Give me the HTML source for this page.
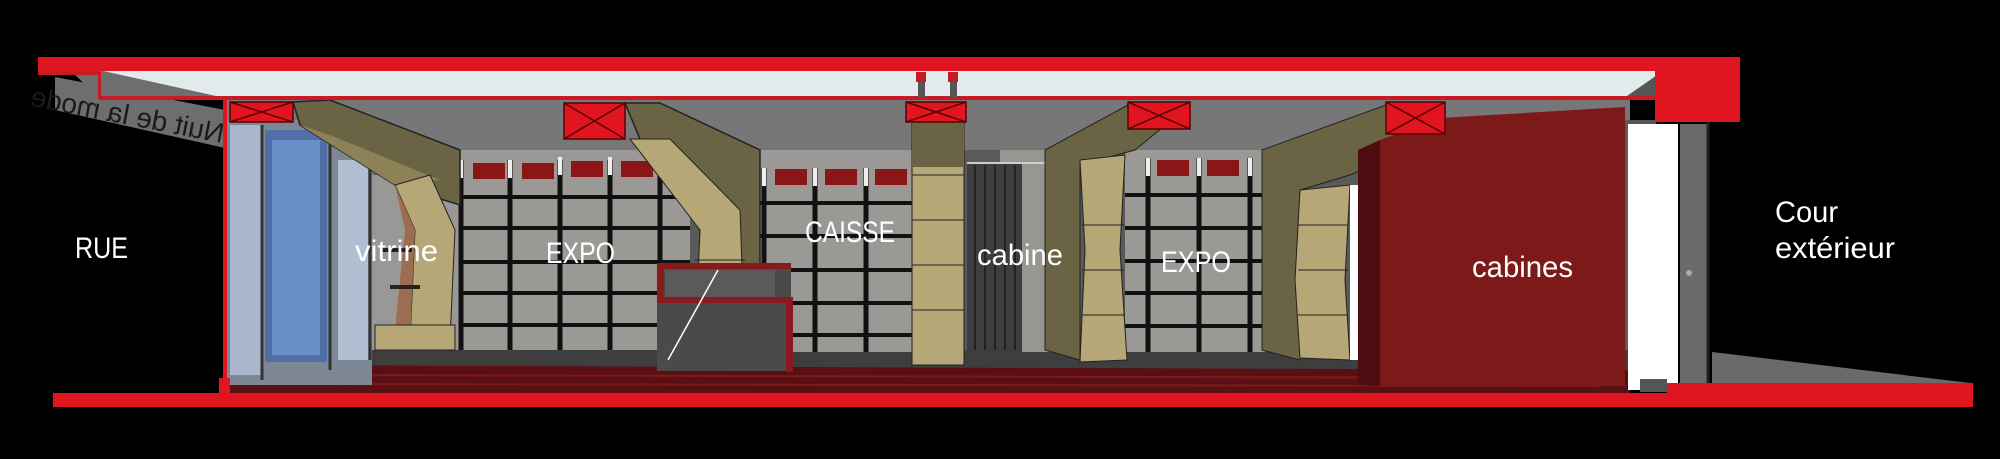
<!DOCTYPE html>
<html><head><meta charset="utf-8"><style>
html,body{margin:0;padding:0;background:#000;width:2000px;height:459px;overflow:hidden}
svg{display:block}
.l{font-family:"Liberation Sans Narrow","Liberation Sans",sans-serif;fill:#fff;font-size:30px}
</style></head><body>
<svg width="2000" height="459" viewBox="0 0 2000 459" xmlns="http://www.w3.org/2000/svg">
<rect width="2000" height="459" fill="#000"/>
<rect x="225" y="99" width="1405" height="294" fill="#5a5a5a"/>
<polygon points="225,99 1630,99 1630,120 1400,150 460,150 372,175 225,125" fill="#777"/>
<polygon points="225,350 1630,350 1630,393 225,393" fill="#3e3e3e"/>
<polygon points="225,365 1630,370 1630,393 225,393" fill="#5a0f12"/>
<line x1="300" y1="375" x2="1600" y2="378" stroke="#7a1a1a" stroke-width="2"/>
<line x1="300" y1="384" x2="1600" y2="386" stroke="#7a1a1a" stroke-width="2"/>
<rect x="372" y="175" width="90" height="175" fill="#9a9896"/>
<rect x="460" y="150" width="230" height="200" fill="#9b9995"/>
<rect x="745" y="150" width="170" height="202" fill="#9b9995"/>
<rect x="1000" y="150" width="50" height="202" fill="#989690"/>
<rect x="1125" y="150" width="140" height="202" fill="#9b9995"/>
<g stroke="#111" stroke-width="4">
<line x1="462" y1="197" x2="690" y2="197"/><line x1="462" y1="228" x2="690" y2="228"/>
<line x1="462" y1="262" x2="690" y2="262"/><line x1="462" y1="293" x2="690" y2="293"/>
<line x1="462" y1="325" x2="690" y2="325"/>
<line x1="760" y1="203" x2="915" y2="203"/><line x1="760" y1="236" x2="915" y2="236"/>
<line x1="760" y1="270" x2="915" y2="270"/><line x1="760" y1="303" x2="915" y2="303"/>
<line x1="760" y1="335" x2="915" y2="335"/>
<line x1="1125" y1="195" x2="1262" y2="195"/><line x1="1125" y1="228" x2="1262" y2="228"/>
<line x1="1125" y1="261" x2="1262" y2="261"/><line x1="1125" y1="293" x2="1262" y2="293"/>
<line x1="1125" y1="326" x2="1262" y2="326"/>
</g>
<g stroke="#111" stroke-width="5">
<line x1="461" y1="160" x2="461" y2="350"/><line x1="510" y1="160" x2="510" y2="350"/>
<line x1="560" y1="160" x2="560" y2="350"/><line x1="610" y1="160" x2="610" y2="350"/>
<line x1="660" y1="160" x2="660" y2="350"/>
<line x1="764" y1="168" x2="764" y2="352"/><line x1="815" y1="168" x2="815" y2="352"/>
<line x1="866" y1="168" x2="866" y2="352"/>
<line x1="1148" y1="158" x2="1148" y2="352"/><line x1="1199" y1="158" x2="1199" y2="352"/>
<line x1="1250" y1="158" x2="1250" y2="352"/>
</g>
<g fill="#eee">
<rect x="459" y="160" width="4" height="18"/><rect x="508" y="160" width="4" height="18"/>
<rect x="558" y="157" width="4" height="18"/><rect x="608" y="157" width="4" height="18"/>
<rect x="762" y="168" width="4" height="18"/><rect x="813" y="168" width="4" height="18"/>
<rect x="864" y="168" width="4" height="18"/>
<rect x="1146" y="158" width="4" height="18"/><rect x="1197" y="158" width="4" height="18"/>
<rect x="1248" y="158" width="4" height="18"/>
</g>
<g fill="#8c1518">
<rect x="473" y="163" width="32" height="16"/><rect x="522" y="163" width="32" height="16"/>
<rect x="571" y="161" width="32" height="16"/><rect x="621" y="161" width="32" height="16"/>
<rect x="775" y="169" width="32" height="16"/><rect x="825" y="169" width="32" height="16"/>
<rect x="875" y="169" width="32" height="16"/>
<rect x="1157" y="160" width="32" height="16"/><rect x="1207" y="160" width="32" height="16"/>
</g>
<rect x="227" y="120" width="145" height="265" fill="#7d8796"/>
<rect x="230" y="125" width="32" height="250" fill="#a9b6cc"/>
<rect x="265" y="130" width="62" height="232" fill="#4f6fa6"/>
<rect x="272" y="140" width="48" height="215" fill="#6b8fc9"/>
<rect x="338" y="160" width="30" height="200" fill="#b2bfd2"/>
<g stroke="#333" stroke-width="3"><line x1="262" y1="125" x2="262" y2="380"/><line x1="330" y1="130" x2="330" y2="370"/><line x1="370" y1="150" x2="370" y2="360"/></g>
<polygon points="55,77 225,110 225,148 55,110" fill="#6e6e6e"/>
<text x="0" y="0" font-family="Liberation Sans,sans-serif" font-size="28" fill="#1a1a1a" transform="translate(222,143) scale(-1,1) rotate(-11)">Nuit de la mode</text>
<polygon points="293,102 330,100 460,150 460,205 395,185 300,125" fill="#6b6444" stroke="#222" stroke-width="1.5"/>
<polygon points="300,125 395,185 440,180 330,135" fill="#8c8157"/>
<polygon points="395,185 430,175 455,230 450,340 410,340 415,230" fill="#b6a776" stroke="#222"/>
<polygon points="395,185 415,230 410,340 395,330 405,230" fill="#9c6d50"/>
<rect x="375" y="325" width="80" height="25" fill="#b6a776" stroke="#222"/>
<rect x="382" y="248" width="30" height="4" fill="#222"/><rect x="390" y="285" width="30" height="4" fill="#222"/>
<polygon points="625,103 660,103 760,150 760,350 700,350 700,230 640,139" fill="#6b6444" stroke="#222" stroke-width="1.5"/>
<polygon points="630,139 670,139 740,210 745,350 695,350 700,230" fill="#b6a776" stroke="#222"/>
<line x1="695" y1="260" x2="745" y2="260" stroke="#222"/><line x1="695" y1="300" x2="745" y2="300" stroke="#222"/>
<rect x="912" y="122" width="52" height="243" fill="#b6a776" stroke="#222"/>
<rect x="912" y="122" width="52" height="45" fill="#6b6444"/>
<g stroke="#222"><line x1="912" y1="175" x2="964" y2="175"/><line x1="912" y1="220" x2="964" y2="220"/><line x1="912" y1="265" x2="964" y2="265"/><line x1="912" y1="310" x2="964" y2="310"/></g>
<rect x="967" y="162" width="55" height="190" fill="#3e3e40"/>
<g stroke="#222" stroke-width="2"><line x1="975" y1="165" x2="975" y2="350"/><line x1="985" y1="165" x2="985" y2="350"/><line x1="995" y1="165" x2="995" y2="350"/><line x1="1005" y1="165" x2="1005" y2="350"/><line x1="1015" y1="165" x2="1015" y2="350"/></g>
<line x1="967" y1="163" x2="1072" y2="163" stroke="#ccc" stroke-width="2"/>
<polygon points="1045,150 1128,105 1190,105 1135,150 1080,165 1080,360 1045,350" fill="#6b6444" stroke="#222"/>
<polygon points="1080,160 1125,155 1120,250 1127,360 1080,362 1085,250" fill="#b6a776" stroke="#222"/>
<g stroke="#222"><line x1="1082" y1="225" x2="1124" y2="225"/><line x1="1082" y1="270" x2="1124" y2="270"/><line x1="1082" y1="315" x2="1124" y2="315"/></g>
<polygon points="1262,150 1386,105 1445,105 1430,140 1350,175 1300,190 1300,360 1262,350" fill="#6b6444" stroke="#222"/>
<polygon points="1300,190 1350,185 1345,280 1350,360 1300,358 1295,280" fill="#b6a776" stroke="#222"/>
<g stroke="#222"><line x1="1298" y1="225" x2="1348" y2="225"/><line x1="1298" y1="270" x2="1348" y2="270"/><line x1="1298" y1="315" x2="1348" y2="315"/></g>
<rect x="1350" y="185" width="10" height="175" fill="#fff"/>
<rect x="657" y="263" width="134" height="108" fill="#4a4a4a"/>
<rect x="665" y="270" width="110" height="32" fill="#5a5a5a"/>
<polygon points="657,263 791,263 791,269 664,269 664,297 793,297 793,372 786,372 786,303 657,303" fill="#8a1a1e"/>
<line x1="668" y1="360" x2="718" y2="270" stroke="#fff" stroke-width="1.5"/>
<polygon points="1358,150 1380,140 1380,386 1358,385" fill="#4d0d10"/>
<polygon points="1380,140 1440,118 1625,107 1625,386 1380,386" fill="#7c1a1a"/>
<rect x="1628" y="120" width="28" height="4" fill="#555"/>
<rect x="1628" y="124" width="50" height="266" fill="#fff"/>
<rect x="1680" y="124" width="28" height="259" fill="#6a6a6a"/>
<line x1="1708" y1="120" x2="1708" y2="383" stroke="#222" stroke-width="3"/>
<circle cx="1689" cy="273" r="3" fill="#aaa"/>
<polygon points="1712,352 1970,383 1712,383" fill="#6a6a6a"/>
<rect x="99" y="70" width="1560" height="28" fill="#e2eaeb"/>
<polygon points="70,70 99,70 225,98 99,98" fill="#6e6e6e"/>
<rect x="99" y="96" width="1560" height="4" fill="#c81a22"/>
<rect x="38" y="70" width="62" height="5" fill="#c81a22"/>
<rect x="98" y="72" width="3" height="27" fill="#c81a22"/>
<rect x="918" y="72" width="7" height="26" fill="#555"/><rect x="950" y="72" width="7" height="26" fill="#555"/>
<rect x="916" y="72" width="10" height="10" fill="#c81a22"/><rect x="948" y="72" width="10" height="10" fill="#c81a22"/>
<polygon points="1627,96 1660,73 1660,96" fill="#555"/>
<rect x="1655" y="70" width="85" height="52" fill="#e0151f"/>
<rect x="38" y="57" width="1702" height="14" fill="#e0151f"/>
<rect x="53" y="393" width="1920" height="14" fill="#e0151f"/>
<rect x="1667" y="383" width="306" height="12" fill="#e0151f"/>
<polygon points="1640,379 1667,379 1667,392 1640,392" fill="#555"/>
<rect x="223" y="99" width="4" height="292" fill="#e0151f"/>
<rect x="219" y="378" width="11" height="15" fill="#e0151f"/>
<g fill="#e0151f" stroke="#5a0000" stroke-width="1.5">
<rect x="230" y="102" width="63" height="20"/><rect x="564" y="103" width="61" height="36"/>
<rect x="906" y="102" width="60" height="20"/><rect x="1128" y="102" width="62" height="27"/>
<rect x="1386" y="102" width="59" height="32"/>
</g>
<g stroke="#5a0000" stroke-width="1.5">
<line x1="230" y1="102" x2="293" y2="122"/><line x1="293" y1="102" x2="230" y2="122"/>
<line x1="564" y1="103" x2="625" y2="139"/><line x1="625" y1="103" x2="564" y2="139"/>
<line x1="906" y1="102" x2="966" y2="122"/><line x1="966" y1="102" x2="906" y2="122"/>
<line x1="1128" y1="102" x2="1190" y2="129"/><line x1="1190" y1="102" x2="1128" y2="129"/>
<line x1="1386" y1="102" x2="1445" y2="134"/><line x1="1445" y1="102" x2="1386" y2="134"/>
</g>
<text class="l" x="75" y="258" textLength="53" lengthAdjust="spacingAndGlyphs">RUE</text>
<text class="l" x="355" y="261" textLength="83" lengthAdjust="spacingAndGlyphs">vitrine</text>
<text class="l" x="546" y="263" textLength="69" lengthAdjust="spacingAndGlyphs">EXPO</text>
<text class="l" x="805" y="242" textLength="90" lengthAdjust="spacingAndGlyphs">CAISSE</text>
<text class="l" x="977" y="265" textLength="86" lengthAdjust="spacingAndGlyphs">cabine</text>
<text class="l" x="1161" y="272" textLength="70" lengthAdjust="spacingAndGlyphs">EXPO</text>
<text class="l" x="1472" y="277" textLength="101" lengthAdjust="spacingAndGlyphs">cabines</text>
<text class="l" x="1775" y="222" textLength="63" lengthAdjust="spacingAndGlyphs">Cour</text>
<text class="l" x="1775" y="258" textLength="120" lengthAdjust="spacingAndGlyphs">extérieur</text>
</svg>
</body></html>
